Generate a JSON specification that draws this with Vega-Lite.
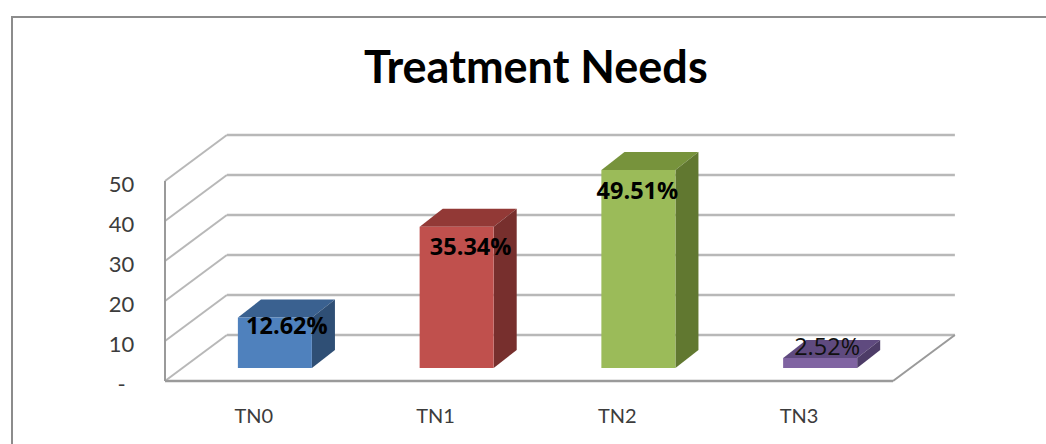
{
  "$schema": "https://vega.github.io/schema/vega-lite/v6.json",
  "width": 1035,
  "height": 429,
  "padding": {"left": 12, "top": 17, "right": -1, "bottom": -2},
  "autosize": {"type": "none"},
  "background": "white",
  "view": {"stroke": "#8c8c8c", "strokeWidth": 2, "fill": "white"},
  "title": {"text": "Treatment Needs", "font": "Lato", "fontWeight": "bold", "fontSize": 45, "color": "#000000", "anchor": "start", "dx": 352, "offset": -75, "orient": "top"},
  "datasets": {
    "needs": [
      {"category": "TN0", "share": 12.62},
      {"category": "TN1", "share": 35.34},
      {"category": "TN2", "share": 49.51},
      {"category": "TN3", "share": 2.52}
    ],
    "levels": [{"level": 0}, {"level": 10}, {"level": 20}, {"level": 30}, {"level": 40}, {"level": 50}]
  },
  "encoding": {
    "y": {"type": "quantitative", "scale": {"domain": [0, 50], "range": [364, 164]}}
  },
  "resolve": {"scale": {"x": "independent", "fill": "independent"}, "axis": {"x": "independent"}},
  "layer": [
    {
      "data": {"name": "levels"},
      "mark": {"type": "rule", "color": "#b8b8b8", "strokeWidth": 2.5, "yOffset": -46, "y2Offset": -46},
      "encoding": {
        "x": {"datum": 0.34, "type": "quantitative", "scale": {"domain": [0, 4], "range": [153, 881]}, "axis": null},
        "x2": {"datum": 4.34},
        "y": {"field": "level", "type": "quantitative", "axis": {"orient": "left", "offset": -109, "values": [0, 10, 20, 30, 40, 50], "labelExpr": "datum.value === 0 ? '-' : datum.label", "domain": false, "ticks": false, "grid": false, "title": null, "labelFont": "Lato", "labelFontSize": 22, "labelColor": "#3c3c3c", "labelPadding": 0, "labelAlign": "center", "labelOffset": 3}},
        "y2": {"field": "level"}
      }
    },
    {
      "data": {"name": "levels"},
      "mark": {"type": "rule", "color": "#b8b8b8", "strokeWidth": 2, "y2Offset": -46},
      "encoding": {
        "x": {"datum": 0, "type": "quantitative", "scale": {"domain": [0, 4], "range": [153, 881]}, "axis": null},
        "x2": {"datum": 0.34},
        "y": {"field": "level", "type": "quantitative"},
        "y2": {"field": "level"}
      }
    },
    {
      "data": {"values": [{"from": 0, "to": 50}]},
      "mark": {"type": "rule", "color": "#9a9a9a", "strokeWidth": 2},
      "encoding": {
        "x": {"datum": 0, "type": "quantitative", "scale": {"domain": [0, 4], "range": [153, 881]}, "axis": null},
        "y": {"field": "from", "type": "quantitative"},
        "y2": {"field": "to"}
      }
    },
    {
      "data": {"values": [{"from": 0}]},
      "mark": {"type": "rule", "color": "#9a9a9a", "strokeWidth": 2.5},
      "encoding": {
        "x": {"datum": 0, "type": "quantitative", "scale": {"domain": [0, 4], "range": [153, 881]}, "axis": null},
        "x2": {"datum": 4},
        "y": {"field": "from", "type": "quantitative"},
        "y2": {"field": "from"}
      }
    },
    {
      "data": {"values": [{"from": 0}]},
      "mark": {"type": "rule", "color": "#9a9a9a", "strokeWidth": 2, "y2Offset": -46},
      "encoding": {
        "x": {"datum": 4, "type": "quantitative", "scale": {"domain": [0, 4], "range": [153, 881]}, "axis": null},
        "x2": {"datum": 4.34},
        "y": {"field": "from", "type": "quantitative"},
        "y2": {"field": "from"}
      }
    },
    {
      "data": {"name": "needs"},
      "transform": [
        {"calculate": "indexof(['TN0','TN1','TN2','TN3'], datum.category) + 0.407", "as": "x0"},
        {"calculate": "datum.x0 + 0.407", "as": "x1"},
        {"calculate": "[0, 1, 2, 3]", "as": "k"},
        {"flatten": ["k"]},
        {"calculate": "datum.k === 0 ? datum.x0 : datum.k === 1 ? datum.x0 + 0.1266 : datum.k === 2 ? datum.x1 : datum.x1 + 0.1266", "as": "px"},
        {"calculate": "datum.k === 3 ? datum.share + 4.5 : datum.share", "as": "lo"},
        {"calculate": "datum.k === 0 ? datum.share : datum.share + 4.5", "as": "hi"}
      ],
      "mark": {"type": "area", "interpolate": "linear", "yOffset": -13, "y2Offset": -13},
      "encoding": {
        "x": {"field": "px", "type": "quantitative", "scale": {"domain": [0, 4], "range": [152, 879]}, "axis": null},
        "y": {"field": "lo", "type": "quantitative"},
        "y2": {"field": "hi"},
        "fill": {"field": "category", "type": "nominal", "legend": null, "scale": {"domain": ["TN0", "TN1", "TN2", "TN3"], "range": ["#3a6190", "#923936", "#77933c", "#5f4a7f"]}}
      }
    },
    {
      "data": {"name": "needs"},
      "transform": [
        {"calculate": "indexof(['TN0','TN1','TN2','TN3'], datum.category) + 0.814", "as": "x1"},
        {"calculate": "[0, 1]", "as": "k"},
        {"flatten": ["k"]},
        {"calculate": "datum.x1 + datum.k * 0.1266", "as": "px"},
        {"calculate": "datum.k * 4.5", "as": "lo"},
        {"calculate": "datum.share + datum.k * 4.5", "as": "hi"}
      ],
      "mark": {"type": "area", "interpolate": "linear", "yOffset": -13, "y2Offset": -13},
      "encoding": {
        "x": {"field": "px", "type": "quantitative", "scale": {"domain": [0, 4], "range": [152, 879]}, "axis": null},
        "y": {"field": "lo", "type": "quantitative"},
        "y2": {"field": "hi"},
        "fill": {"field": "category", "type": "nominal", "legend": null, "scale": {"domain": ["TN0", "TN1", "TN2", "TN3"], "range": ["#2f4f75", "#772f2d", "#617830", "#4d3c67"]}}
      }
    },
    {
      "data": {"name": "needs"},
      "mark": {"type": "bar", "width": 74, "xOffset": 20, "x2Offset": 20, "yOffset": -13, "y2Offset": -13},
      "encoding": {
        "x": {"field": "category", "type": "nominal", "scale": {"domain": ["TN0", "TN1", "TN2", "TN3"], "range": [152, 879], "padding": 0}, "axis": {"orient": "bottom", "offset": -46, "labelAngle": 0, "domain": false, "ticks": false, "title": null, "labelFont": "Lato", "labelFontSize": 20, "labelColor": "#3c3c3c", "labelPadding": 6, "labelOffset": -1}},
        "y": {"field": "share", "type": "quantitative"},
        "y2": {"datum": 0},
        "color": {"field": "category", "type": "nominal", "legend": null, "scale": {"domain": ["TN0", "TN1", "TN2", "TN3"], "range": ["#4f81bd", "#c0504d", "#9bbb59", "#8064a2"]}}
      }
    },
    {
      "data": {"name": "needs"},
      "transform": [{"filter": "datum.category === 'TN0'"}, {"calculate": "format(datum.share, '.2f') + '%'", "as": "lab"}],
      "mark": {"type": "text", "font": "Open Sans", "fontWeight": "bold", "fontSize": 23.5, "color": "#000000", "xOffset": 32, "yOffset": -4},
      "encoding": {
        "x": {"field": "category", "type": "nominal", "scale": {"type": "band", "domain": ["TN0", "TN1", "TN2", "TN3"], "range": [152, 879], "padding": 0}, "axis": null},
        "y": {"field": "share", "type": "quantitative"},
        "text": {"field": "lab"}
      }
    },
    {
      "data": {"name": "needs"},
      "transform": [{"filter": "datum.category === 'TN1'"}, {"calculate": "format(datum.share, '.2f') + '%'", "as": "lab"}],
      "mark": {"type": "text", "font": "Open Sans", "fontWeight": "bold", "fontSize": 23.5, "color": "#000000", "xOffset": 34, "yOffset": 8},
      "encoding": {
        "x": {"field": "category", "type": "nominal", "scale": {"type": "band", "domain": ["TN0", "TN1", "TN2", "TN3"], "range": [152, 879], "padding": 0}, "axis": null},
        "y": {"field": "share", "type": "quantitative"},
        "text": {"field": "lab"}
      }
    },
    {
      "data": {"name": "needs"},
      "transform": [{"filter": "datum.category === 'TN2'"}, {"calculate": "format(datum.share, '.2f') + '%'", "as": "lab"}],
      "mark": {"type": "text", "font": "Open Sans", "fontWeight": "bold", "fontSize": 23.5, "color": "#000000", "xOffset": 19, "yOffset": 9},
      "encoding": {
        "x": {"field": "category", "type": "nominal", "scale": {"type": "band", "domain": ["TN0", "TN1", "TN2", "TN3"], "range": [152, 879], "padding": 0}, "axis": null},
        "y": {"field": "share", "type": "quantitative"},
        "text": {"field": "lab"}
      }
    },
    {
      "data": {"name": "needs"},
      "transform": [{"filter": "datum.category === 'TN3'"}, {"calculate": "format(datum.share, '.2f') + '%'", "as": "lab"}],
      "mark": {"type": "text", "font": "Open Sans", "fontSize": 23.5, "color": "#101010", "xOffset": 27, "yOffset": -23},
      "encoding": {
        "x": {"field": "category", "type": "nominal", "scale": {"type": "band", "domain": ["TN0", "TN1", "TN2", "TN3"], "range": [152, 879], "padding": 0}, "axis": null},
        "y": {"field": "share", "type": "quantitative"},
        "text": {"field": "lab"}
      }
    }
  ]
}
